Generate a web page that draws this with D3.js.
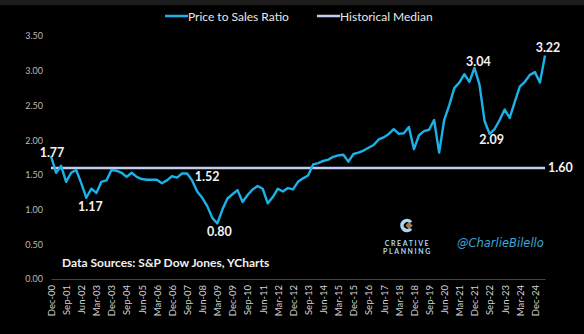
<!DOCTYPE html>
<html><head><meta charset="utf-8">
<script src="https://cdn.jsdelivr.net/npm/d3@7"></script>
<style>
html,body{margin:0;padding:0;background:#000;}
svg{display:block;}
</style></head>
<body>
<svg id="c" width="584" height="334"></svg>
<script>
const quarters = ["Dec-00","Mar-01","Jun-01","Sep-01","Dec-01","Mar-02","Jun-02","Sep-02","Dec-02","Mar-03","Jun-03","Sep-03","Dec-03","Mar-04","Jun-04","Sep-04","Dec-04","Mar-05","Jun-05","Sep-05","Dec-05","Mar-06","Jun-06","Sep-06","Dec-06","Mar-07","Jun-07","Sep-07","Dec-07","Mar-08","Jun-08","Sep-08","Dec-08","Mar-09","Jun-09","Sep-09","Dec-09","Mar-10","Jun-10","Sep-10","Dec-10","Mar-11","Jun-11","Sep-11","Dec-11","Mar-12","Jun-12","Sep-12","Dec-12","Mar-13","Jun-13","Sep-13","Dec-13","Mar-14","Jun-14","Sep-14","Dec-14","Mar-15","Jun-15","Sep-15","Dec-15","Mar-16","Jun-16","Sep-16","Dec-16","Mar-17","Jun-17","Sep-17","Dec-17","Mar-18","Jun-18","Sep-18","Dec-18","Mar-19","Jun-19","Sep-19","Dec-19","Mar-20","Jun-20","Sep-20","Dec-20","Mar-21","Jun-21","Sep-21","Dec-21","Mar-22","Jun-22","Sep-22","Dec-22","Mar-23","Jun-23","Sep-23","Dec-23","Mar-24","Jun-24","Sep-24","Dec-24","Mar-25","Jun-25"];
const priceToSales = [1.77,1.53,1.63,1.40,1.53,1.57,1.38,1.17,1.30,1.24,1.40,1.42,1.57,1.56,1.53,1.47,1.53,1.47,1.44,1.43,1.43,1.43,1.38,1.42,1.48,1.46,1.52,1.52,1.42,1.26,1.17,1.05,0.88,0.80,1.00,1.16,1.22,1.28,1.11,1.21,1.29,1.34,1.30,1.09,1.18,1.30,1.26,1.31,1.29,1.40,1.45,1.49,1.65,1.67,1.70,1.72,1.76,1.78,1.79,1.69,1.80,1.82,1.85,1.89,1.93,2.01,2.04,2.09,2.16,2.09,2.10,2.19,1.87,2.07,2.13,2.15,2.29,1.82,2.29,2.50,2.75,2.83,2.95,2.84,3.04,2.80,2.28,2.09,2.16,2.29,2.44,2.32,2.55,2.77,2.84,2.94,2.98,2.83,3.22];
const historicalMedian = 1.60;
const xTickLabels = ["Dec-00","Sep-01","Jun-02","Mar-03","Dec-03","Sep-04","Jun-05","Mar-06","Dec-06","Sep-07","Jun-08","Mar-09","Dec-09","Sep-10","Jun-11","Mar-12","Dec-12","Sep-13","Jun-14","Mar-15","Dec-15","Sep-16","Jun-17","Mar-18","Dec-18","Sep-19","Jun-20","Mar-21","Dec-21","Sep-22","Jun-23","Mar-24","Dec-24"];
const yTicks = [0,0.5,1,1.5,2,2.5,3,3.5];
const annotations = [
  {q:"Dec-00", v:1.77, dx:1, dy:1},
  {q:"Sep-02", v:1.17, dx:4, dy:13},
  {q:"Sep-07", v:1.52, dx:20, dy:8},
  {q:"Mar-09", v:0.80, dx:2, dy:13},
  {q:"Dec-21", v:3.04, dx:4, dy:-2},
  {q:"Sep-22", v:2.09, dx:2, dy:10},
  {q:"Jun-25", v:3.22, dx:3, dy:-3}
];
const seriesNames = ["Price to Sales Ratio","Historical Median"];
const colors = {line:"#1ab2e8", median:"#c3cdf2"};

const svg = d3.select("#c");
svg.append("rect").attr("width",584).attr("height",334).attr("fill","#000");
svg.append("rect").attr("width",584).attr("height",5).attr("fill","#1c1c1c");

const x = d3.scalePoint().domain(quarters).range([51,545]);
const y = d3.scaleLinear().domain([0,3.5]).range([279,36]);
const font = "Lato, 'Open Sans', sans-serif";

// y axis
const ya = svg.append("g").attr("transform","translate(45,0)")
  .call(d3.axisLeft(y).tickValues(yTicks).tickSize(0).tickPadding(2).tickFormat(d3.format(".2f")));
ya.select(".domain").remove();
ya.selectAll("text").attr("fill","#b8b8b8").attr("font-size","9px").attr("font-family",font);

// x axis
const xa = svg.append("g").attr("transform","translate(0,279)")
  .call(d3.axisBottom(x).tickValues(xTickLabels).tickSize(0).tickSizeOuter(0));
xa.select(".domain").attr("stroke","#444").attr("stroke-width",1);
xa.selectAll("text").attr("fill","#d0d0d0").attr("font-size","9.5px").attr("font-family",font)
  .attr("text-anchor","end").attr("transform","rotate(-90)").attr("x",-6).attr("y",0).attr("dy","0.35em");

// median line
svg.append("line").attr("x1",x(quarters[0])).attr("x2",x(quarters[quarters.length-1]))
  .attr("y1",y(historicalMedian)).attr("y2",y(historicalMedian))
  .attr("stroke",colors.median).attr("stroke-width",2.5);

// main line
const data = quarters.map((q,i)=>({q, v:priceToSales[i]}));
svg.append("path").datum(data)
  .attr("fill","none").attr("stroke",colors.line).attr("stroke-width",2.4).attr("stroke-linejoin","round")
  .attr("d", d3.line().x(d=>x(d.q)).y(d=>y(d.v)));

// annotations
svg.selectAll("text.ann").data(annotations).join("text").attr("class","ann")
  .attr("x",d=>x(d.q)+d.dx).attr("y",d=>y(d.v)+d.dy)
  .attr("text-anchor","middle").attr("fill","#f2f2f2").attr("font-size","12.5px").attr("font-weight","bold")
  .attr("font-family",font).text(d=>d.v.toFixed(2));
svg.append("text").attr("x",x(quarters[quarters.length-1])+3).attr("y",y(historicalMedian)+4.5)
  .attr("fill","#f2f2f2").attr("font-size","12.5px").attr("font-weight","bold").attr("font-family",font)
  .text(historicalMedian.toFixed(2));

// legend
const lg = svg.append("g");
const legendItems = [{name:seriesNames[0], c:colors.line, x0:165},{name:seriesNames[1], c:colors.median, x0:317}];
legendItems.forEach(it=>{
  lg.append("line").attr("x1",it.x0).attr("x2",it.x0+23).attr("y1",16).attr("y2",16).attr("stroke",it.c).attr("stroke-width",2.5);
  lg.append("text").attr("x",it.x0+23).attr("y",20.5).attr("fill","#e8e8e8").attr("font-size","12px")
    .attr("font-family",font).text(it.name);
});

// source
svg.append("text").attr("x",62).attr("y",267).attr("fill","#f2f2f2").attr("font-size","12px").attr("font-weight","bold")
  .attr("font-family",font).text("Data Sources: S&P Dow Jones, YCharts");

// logo
const logo = svg.append("g");
const arc = d3.arc().innerRadius(3.2).outerRadius(6.8).startAngle(Math.PI*0.22).endAngle(Math.PI*1.78);
logo.append("path").attr("d",arc()).attr("transform","translate(407,225.5) rotate(90)").attr("fill","#a9d6f2");
logo.append("rect").attr("x",-2.6).attr("y",-2.6).attr("width",5.2).attr("height",5.2)
  .attr("transform","translate(409,225.5) rotate(45)").attr("fill","#a07a4a");
logo.append("text").attr("x",407.5).attr("y",245.5).attr("text-anchor","middle").attr("fill","#a9d6f2")
  .attr("font-size","7px").attr("font-weight","bold").attr("letter-spacing","1.6px").attr("font-family",font).text("CREATIVE");
logo.append("text").attr("x",407.5).attr("y",254).attr("text-anchor","middle").attr("fill","#a9d6f2")
  .attr("font-size","7px").attr("font-weight","bold").attr("letter-spacing","1.6px").attr("font-family",font).text("PLANNING");
svg.append("text").attr("x",457).attr("y",247).attr("fill","#3aa6da").attr("font-size","11.5px")
  .attr("font-style","italic").attr("font-family","'DejaVu Sans', sans-serif").text("@CharlieBilello");
</script>
</body></html>
